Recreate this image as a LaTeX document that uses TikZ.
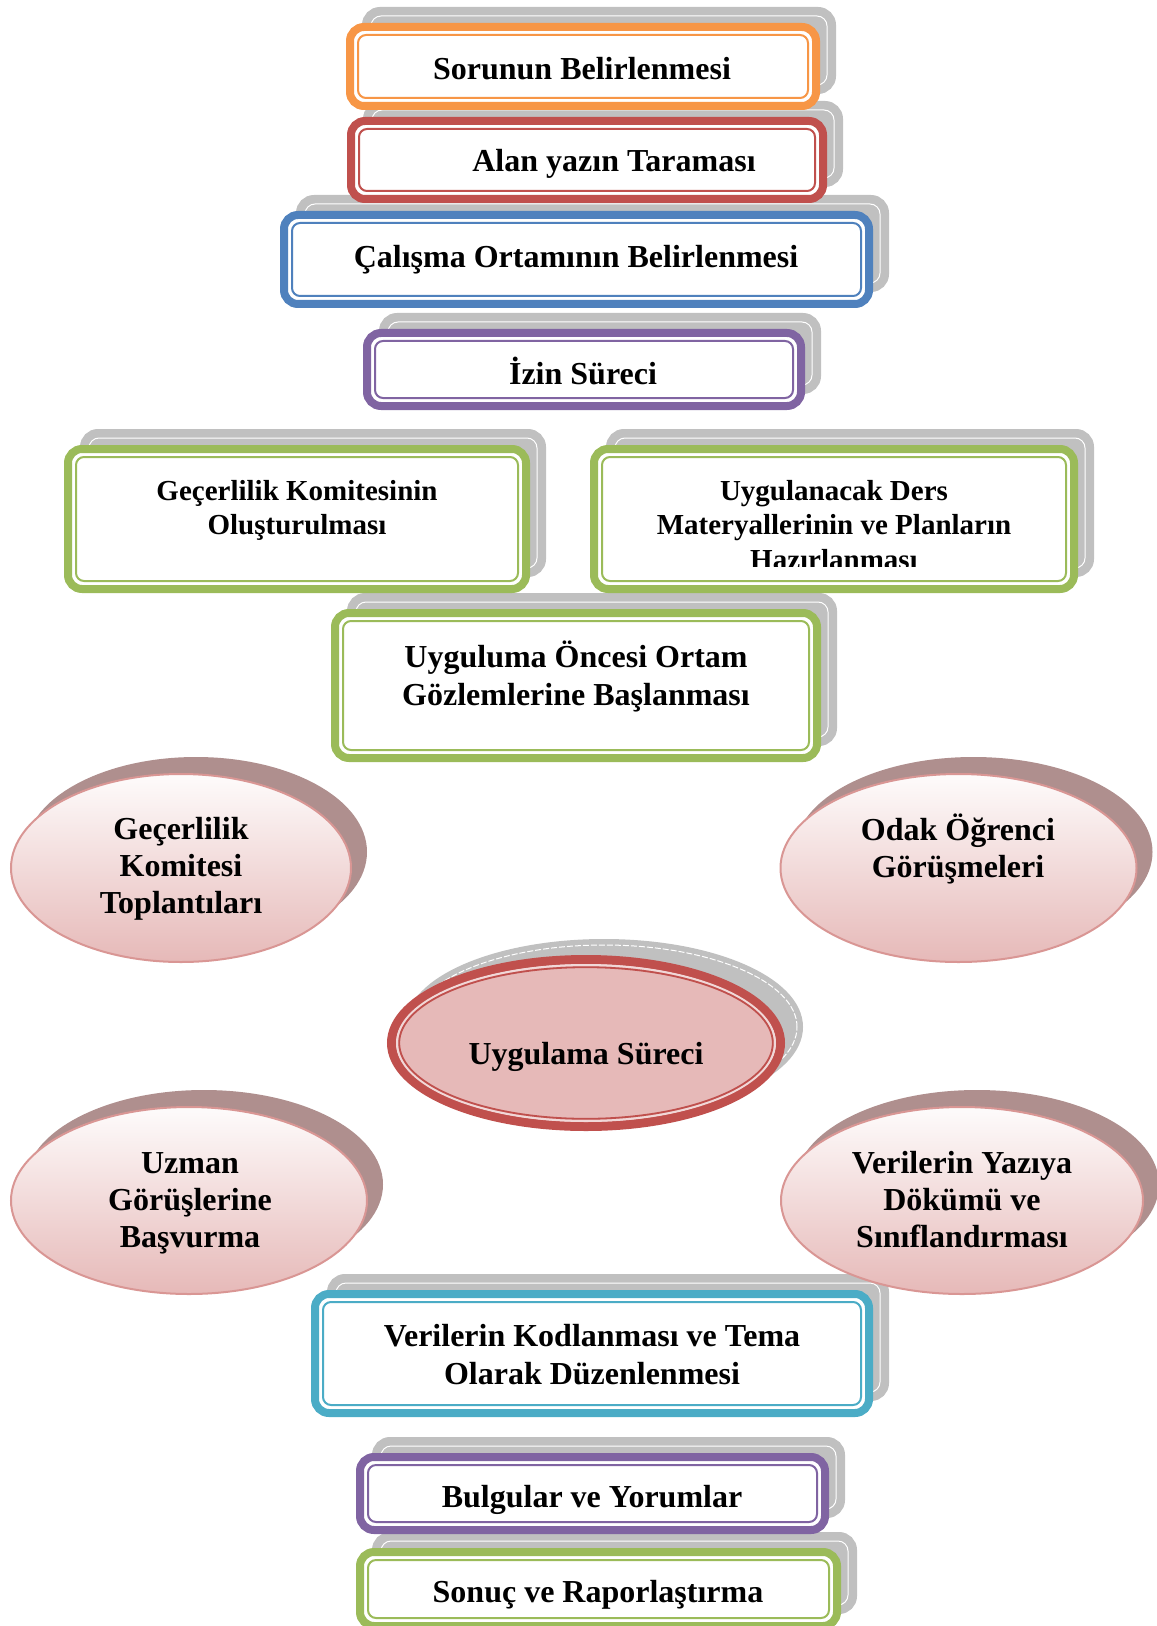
\documentclass[tikz,border=0pt]{standalone}
\usepackage{fontspec}
\setmainfont{Liberation Serif}
\usetikzlibrary{shapes.geometric}

\definecolor{orangeC}{HTML}{F79646}
\definecolor{redC}{HTML}{C0504D}
\definecolor{blueC}{HTML}{4F81BD}
\definecolor{purpleC}{HTML}{8064A2}
\definecolor{greenC}{HTML}{9BBB59}
\definecolor{aquaC}{HTML}{4BACC6}
\definecolor{shadeC}{HTML}{C0C0C0}
\definecolor{roseFill}{HTML}{E6B9B8}
\definecolor{roseLine}{HTML}{D99694}
\definecolor{roseShade}{HTML}{AF8F8E}

\def \frameLine {4pt}

\tikzset{
  greyshadow/.style={rectangle, rounded corners=7pt, fill=shadeC, draw=shadeC,
    line width=\frameLine, outer sep=0pt, xshift=8pt, yshift=8pt},
  stepframe/.style={rectangle, rounded corners=7pt, fill=white,
    line width=\frameLine, outer sep=0pt},
  bubbleshadow/.style={ellipse, fill=roseShade, draw=roseShade, line width=1pt,
    xshift=7.5pt, yshift=8pt},
  bubble/.style={ellipse, draw=roseLine, line width=1pt,
    top color=roseFill!5, bottom color=roseFill},
  hubshadow/.style={ellipse, fill=shadeC, draw=shadeC, line width=4.5pt,
    xshift=9pt, yshift=8pt},
  hub/.style={ellipse, fill=roseFill, draw=redC, line width=4.5pt},
  steptext/.style={font=\fontsize{16}{19}\selectfont\bfseries, align=center, inner sep=0pt},
  smalltext/.style={font=\fontsize{14.5}{17.25}\selectfont\bfseries, align=center, inner sep=0pt},
  bubbletext/.style={font=\fontsize{16}{18.5}\selectfont\bfseries, align=center, inner sep=0pt}
}

\begin{document}
\begin{tikzpicture}[x=0.5pt, y=-0.5pt]
  \useasboundingbox (0,0) rectangle (1156,1626);

  % shadows
  \node[greyshadow, minimum width=233pt, minimum height=39.5pt] (sorunS) at (583,66.5) {};
  \node[greyshadow, minimum width=236pt, minimum height=39pt] (alanS) at (587,160) {};
  \node[greyshadow, minimum width=292.5pt, minimum height=44.5pt] (calismaS) at (576.5,259.5) {};
  \node[greyshadow, minimum width=217pt, minimum height=36.5pt] (izinS) at (584,369.5) {};
  \node[greyshadow, minimum width=229pt, minimum height=70pt] (komiteS) at (297,519) {};
  \node[greyshadow, minimum width=240pt, minimum height=70pt] (dersS) at (834,519) {};
  \node[greyshadow, minimum width=241pt, minimum height=72.5pt] (gozlemS) at (576,685.5) {};
  \node[greyshadow, minimum width=277pt, minimum height=59.5pt] (kodlamaS) at (592,1353.5) {};
  \node[greyshadow, minimum width=232.5pt, minimum height=36.5pt] (bulguS) at (592.5,1493.5) {};
  \node[greyshadow, minimum width=238.5pt, minimum height=37pt] (sonucS) at (598.5,1589) {};
  \foreach \n in {sorunS, alanS, calismaS, izinS, komiteS, dersS, gozlemS, kodlamaS, bulguS, sonucS}
    \draw[white, line width=0.5pt, rounded corners=5pt]
      ([shift={(2.5pt,-2.5pt)}]\n.north west) rectangle ([shift={(-2.5pt,2.5pt)}]\n.south east);
  \node[bubbleshadow, minimum width=170pt, minimum height=94pt] (toplantiS) at (181,868) {};
  \node[bubbleshadow, minimum width=178pt, minimum height=94pt] (odakS) at (958.5,868) {};
  \node[bubbleshadow, minimum width=178pt, minimum height=93.5pt] (uzmanS) at (189,1200.5) {};
  \node[bubbleshadow, minimum width=181pt, minimum height=93.5pt] (dokumS) at (962,1200.5) {};
  \node[hubshadow, minimum width=194.5pt, minimum height=83.5pt] (surecS) at (586,1043) {};
  \draw[white, line width=0.5pt, dash pattern=on 3pt off 1pt] (surecS.center) ellipse [x radius=96.5pt, y radius=41pt];

  % frames
  \node[stepframe, draw=orangeC, minimum width=233pt, minimum height=39.5pt] (sorun) at (583,66.5) {};
  \node[stepframe, draw=redC, minimum width=236pt, minimum height=39pt] (alan) at (587,160) {};
  \node[stepframe, draw=blueC, minimum width=292.5pt, minimum height=44.5pt] (calisma) at (576.5,259.5) {};
  \node[stepframe, draw=purpleC, minimum width=217pt, minimum height=36.5pt] (izin) at (584,369.5) {};
  \node[stepframe, draw=greenC, minimum width=229pt, minimum height=70pt] (komite) at (297,519) {};
  \node[stepframe, draw=greenC, minimum width=240pt, minimum height=70pt] (ders) at (834,519) {};
  \node[stepframe, draw=greenC, minimum width=241pt, minimum height=72.5pt] (gozlem) at (576,685.5) {};
  \node[stepframe, draw=aquaC, minimum width=277pt, minimum height=59.5pt] (kodlama) at (592,1353.5) {};
  \node[stepframe, draw=purpleC, minimum width=232.5pt, minimum height=36.5pt] (bulgu) at (592.5,1493.5) {};
  \node[stepframe, draw=greenC, minimum width=238.5pt, minimum height=37pt] (sonuc) at (598.5,1589) {};
  \foreach \n/\c in {sorun/orangeC, alan/redC, calisma/blueC, izin/purpleC, komite/greenC,
                     ders/greenC, gozlem/greenC, kodlama/aquaC, bulgu/purpleC, sonuc/greenC}
    \draw[\c, line width=1pt, rounded corners=4pt]
      ([shift={(4pt,-4pt)}]\n.north west) rectangle ([shift={(-4pt,4pt)}]\n.south east);

  % ellipses
  \node[bubble, minimum width=170pt, minimum height=94pt] (toplanti) at (181,868) {};
  \node[bubble, minimum width=178pt, minimum height=94pt] (odak) at (958.5,868) {};
  \node[bubble, minimum width=178pt, minimum height=93.5pt] (uzman) at (189,1200.5) {};
  \node[bubble, minimum width=181pt, minimum height=93.5pt] (dokum) at (962,1200.5) {};
  \node[hub, minimum width=194.5pt, minimum height=83.5pt] (surec) at (586,1043) {};
  \draw[white!45!roseFill, line width=1pt] (surec.center) ellipse [x radius=94.5pt, y radius=39pt];
  \draw[redC, line width=0.9pt] (surec.center) ellipse [x radius=93.4pt, y radius=37.9pt];

  % texts
  \node[steptext] (sorunT) at (582,69) {Sorunun Belirlenmesi};
  \node[steptext] (alanT) at (614,164) {Alan yazın Taraması};
  \node[steptext] (calismaT) at (576,260) {Çalışma Ortamının Belirlenmesi};
  \node[steptext] (izinT) at (583,371) {İzin Süreci};
  \node[smalltext] (komiteT) at (297,510.5) {Geçerlilik Komitesinin\\Oluşturulması};
  \begin{scope}
    \clip (590,440) rectangle (1075,566);
    \node[smalltext] (dersT) at (834,525) {Uygulanacak Ders\\Materyallerinin ve Planların\\Hazırlanması};
  \end{scope}
  \node[steptext] (gozlemT) at (576,676) {Uyguluma Öncesi Ortam\\Gözlemlerine Başlanması};
  \node[bubbletext] (toplantiT) at (181,869) {Geçerlilik\\Komitesi\\Toplantıları};
  \node[bubbletext] (odakT) at (958,849) {Odak Öğrenci\\Görüşmeleri};
  \node[bubbletext] (surecT) at (586,1057) {Uygulama Süreci};
  \node[bubbletext] (uzmanT) at (190,1203) {Uzman\\Görüşlerine\\Başvurma};
  \node[bubbletext] (dokumT) at (962,1200) {Verilerin Yazıya\\Dökümü ve\\Sınıflandırması};
  \node[steptext] (kodlamaT) at (592,1355) {Verilerin Kodlanması ve Tema\\Olarak Düzenlenmesi};
  \node[steptext] (bulguT) at (592,1500) {Bulgular ve Yorumlar};
  \node[steptext] (sonucT) at (598,1595) {Sonuç ve Raporlaştırma};
\end{tikzpicture}
\end{document}
